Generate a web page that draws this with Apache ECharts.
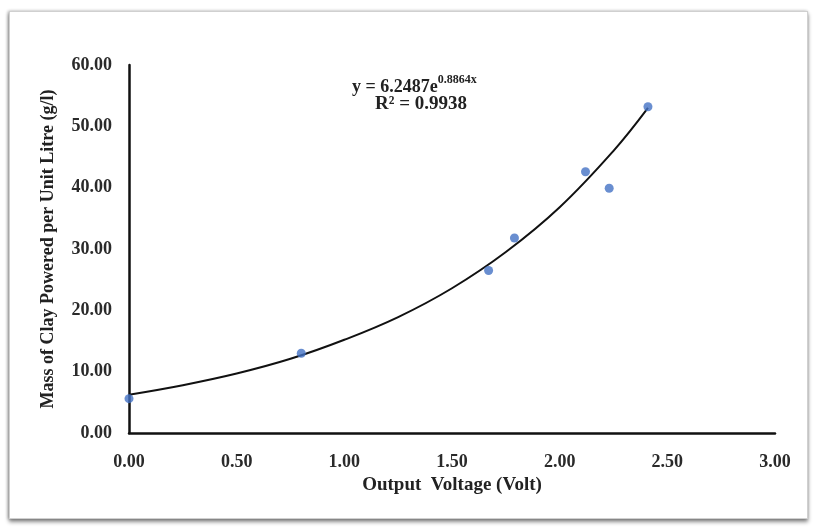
<!DOCTYPE html>
<html>
<head>
<meta charset="utf-8">
<script src="https://cdn.jsdelivr.net/npm/echarts@6/dist/echarts.min.js"></script>
<style>
html,body{margin:0;padding:0;background:#fff;}
#wrap{position:absolute;left:9px;top:11px;width:797px;height:506px;border:1px solid #d0d0d0;box-shadow:0px 3px 4px rgba(0,0,0,0.45), -1px 0 3px rgba(0,0,0,0.3);background:#fff;}
#chart{position:absolute;left:0;top:0;width:813px;height:528px;}
</style>
</head>
<body>
<div id="wrap"></div>
<div id="chart"></div>
<script>
// Measured data points (Output Voltage, Mass of clay)
const voltage = [0.00, 0.80, 1.67, 1.79, 2.12, 2.23, 2.41];
const mass = [5.6, 13.0, 26.5, 31.8, 42.6, 39.9, 53.2];
// Trendline points
const trendX = [0.00, 0.25, 0.50, 0.75, 1.00, 1.25, 1.50, 1.75, 2.00, 2.25, 2.41];
const trendY = [6.25, 7.8, 9.7, 12.1, 15.2, 18.9, 23.6, 29.5, 36.8, 46.0, 53.0];
const xTicks = ['0.00','0.50','1.00','1.50','2.00','2.50','3.00'];
const yTicks = ['0.00','10.00','20.00','30.00','40.00','50.00','60.00'];

const font = 'Liberation Serif';
const chart = echarts.init(document.getElementById('chart'), null, {renderer:'canvas'});
chart.setOption({
  backgroundColor: 'transparent',
  animation: false,
  grid: {left:129, right:38, top:65, bottom:95},
  xAxis: {
    type:'value', min:0, max:3, interval:0.5,
    name:'Output  Voltage (Volt)', nameLocation:'middle', nameGap:41,
    nameTextStyle:{fontFamily:font, fontWeight:'bold', fontSize:19, color:'#222'},
    axisLine:{show:true, lineStyle:{color:'#111', width:2.5}},
    axisTick:{show:false},
    splitLine:{show:false},
    axisLabel:{margin:20, fontFamily:font, fontWeight:'bold', fontSize:18, color:'#2a2a2a',
      formatter:(v)=> xTicks[Math.round(v/0.5)]}
  },
  yAxis: {
    type:'value', min:0, max:60, interval:10,
    name:'Mass of Clay Powered per Unit Litre (g/l)', nameLocation:'middle', nameGap:72,
    nameTextStyle:{fontFamily:font, fontWeight:'bold', fontSize:18, color:'#222'},
    axisLine:{show:true, lineStyle:{color:'#111', width:2.5}},
    axisTick:{show:false},
    splitLine:{show:false},
    axisLabel:{margin:17, fontFamily:font, fontWeight:'bold', fontSize:18, color:'#2a2a2a',
      formatter:(v)=> yTicks[Math.round(v/10)]}
  },
  series: [
    {
      type:'line', smooth:0.4, symbol:'none',
      data: trendX.map((x,i)=>[x, trendY[i]]),
      lineStyle:{color:'#111', width:2},
      z:2
    },
    {
      type:'scatter', symbolSize:9,
      data: voltage.map((x,i)=>[x, mass[i]]),
      itemStyle:{color:'#4472C4'},
      z:3
    }
  ],
  graphic: [
    {
      type:'text', left:352, top:74,
      style:{
        text:'{b|y = 6.2487e}{s|0.8864x}',
        rich:{
          b:{fontFamily:font, fontWeight:'bold', fontSize:18, fill:'#222', verticalAlign:'bottom', lineHeight:22},
          s:{fontFamily:font, fontWeight:'bold', fontSize:12, fill:'#222', verticalAlign:'top', padding:[0,0,9,0], lineHeight:22}
        }
      }
    },
    {
      type:'text', left:375, top:95,
      style:{
        text:'R² = 0.9938',
        fontFamily:font, fontWeight:'bold', fontSize:19, fill:'#222'
      }
    }
  ]
});
</script>
</body>
</html>
